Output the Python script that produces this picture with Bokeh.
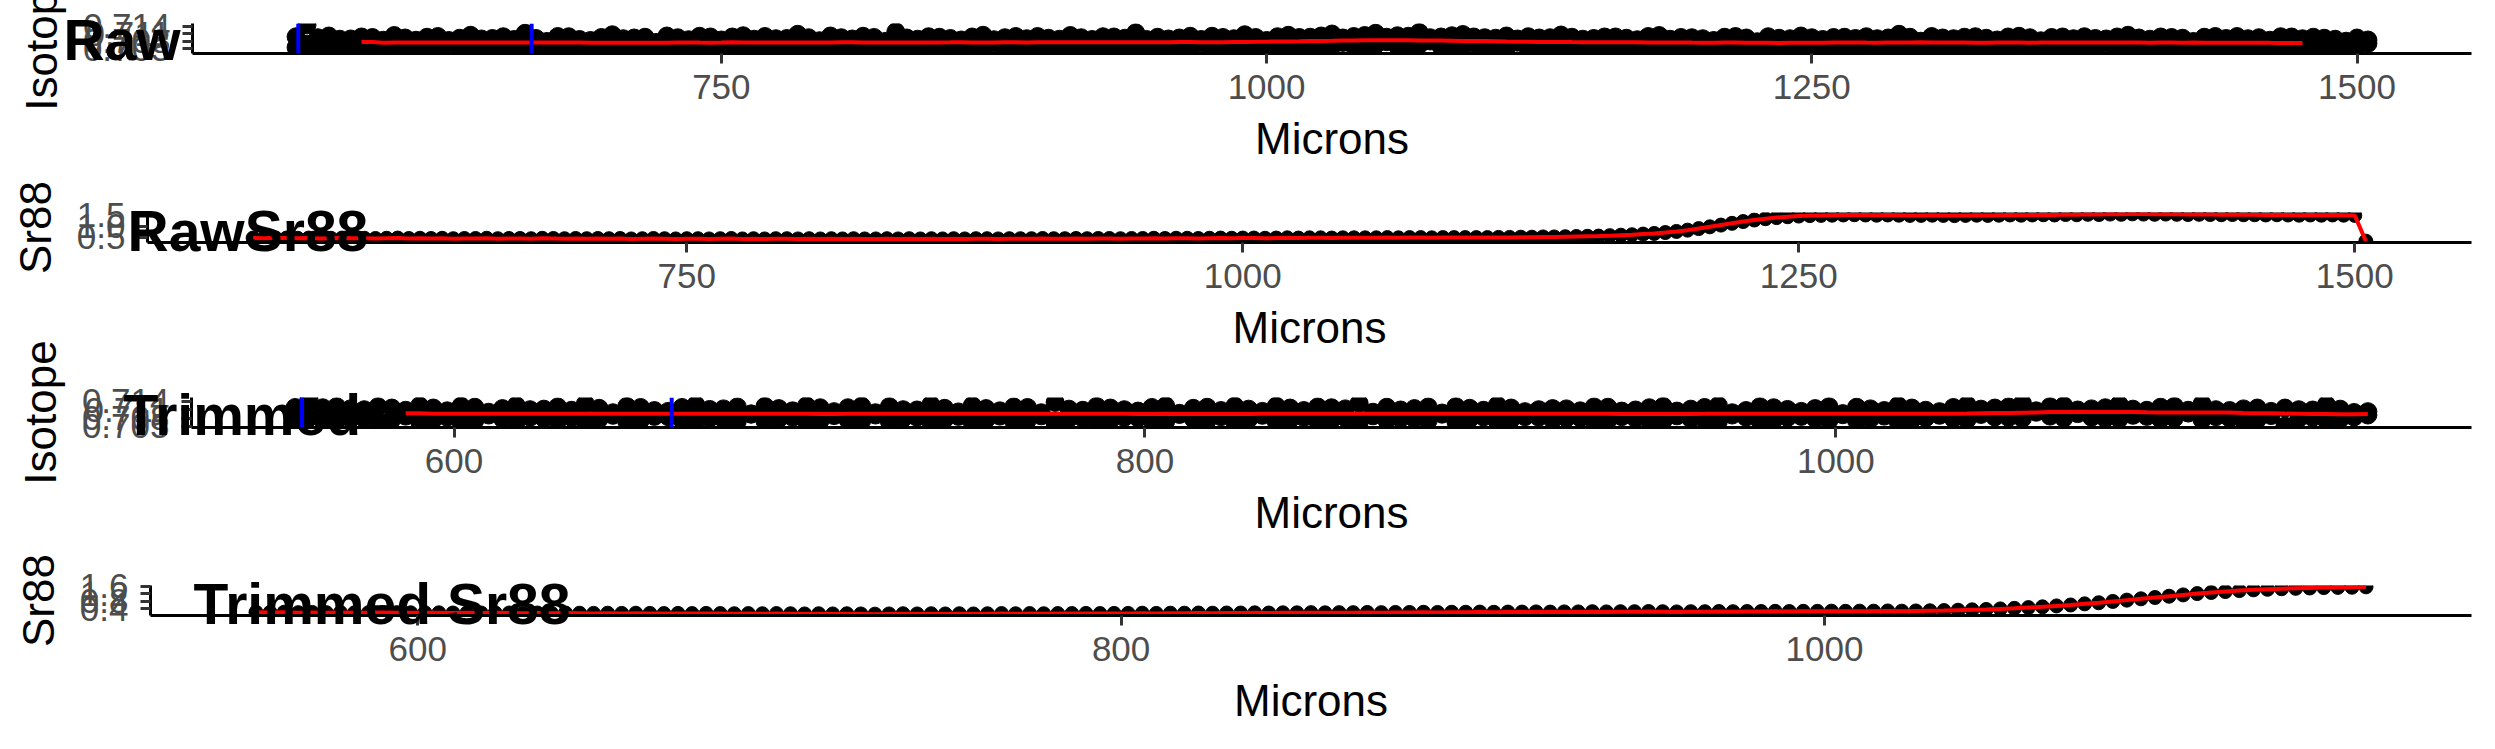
import numpy as np
import pandas as pd
from bokeh.plotting import figure
from bokeh.models import Range1d, FixedTicker, PrintfTickFormatter, Span, Title
from bokeh.embed import file_html
from bokeh.resources import INLINE

# ---------------- data ----------------
x_raw = [555, 560, 565, 570, 575, 580, 585, 590, 595, 600,
         605, 610, 615, 620, 625, 630, 635, 640, 645, 650,
         655, 660, 665, 670, 675, 680, 685, 690, 695, 700,
         705, 710, 715, 720, 725, 730, 735, 740, 745, 750,
         755, 760, 765, 770, 775, 780, 785, 790, 795, 800,
         805, 810, 815, 820, 825, 830, 835, 840, 845, 850,
         855, 860, 865, 870, 875, 880, 885, 890, 895, 900,
         905, 910, 915, 920, 925, 930, 935, 940, 945, 950,
         955, 960, 965, 970, 975, 980, 985, 990, 995, 1000,
         1005, 1010, 1015, 1020, 1025, 1030, 1035, 1040, 1045, 1050,
         1055, 1060, 1065, 1070, 1075, 1080, 1085, 1090, 1095, 1100,
         1105, 1110, 1115, 1120, 1125, 1130, 1135, 1140, 1145, 1150,
         1155, 1160, 1165, 1170, 1175, 1180, 1185, 1190, 1195, 1200,
         1205, 1210, 1215, 1220, 1225, 1230, 1235, 1240, 1245, 1250,
         1255, 1260, 1265, 1270, 1275, 1280, 1285, 1290, 1295, 1300,
         1305, 1310, 1315, 1320, 1325, 1330, 1335, 1340, 1345, 1350,
         1355, 1360, 1365, 1370, 1375, 1380, 1385, 1390, 1395, 1400,
         1405, 1410, 1415, 1420, 1425, 1430, 1435, 1440, 1445, 1450,
         1455, 1460, 1465, 1470, 1475, 1480, 1485, 1490, 1495, 1500,
         1505]

# two isotope readings per position (the cloud in the reference is dense)
iso_raw_a = [0.7098, 0.7146, 0.7052, 0.7101, 0.7061, 0.7089, 0.7048, 0.7095, 0.7067, 0.7103,
             0.7055, 0.7084, 0.7046, 0.7099, 0.7072, 0.7058, 0.7104, 0.7063, 0.7091, 0.7050,
             0.7087, 0.7112, 0.7057, 0.7079, 0.7047, 0.7098, 0.7066, 0.7083, 0.7052, 0.7106,
             0.7060, 0.7093, 0.7049, 0.7075, 0.7101, 0.7058, 0.7086, 0.7046, 0.7097, 0.7069,
             0.7054, 0.7102, 0.7071, 0.7048, 0.7090, 0.7063, 0.7108, 0.7056, 0.7082, 0.7045,
             0.7094, 0.7067, 0.7100, 0.7053, 0.7079, 0.7118, 0.7059, 0.7088, 0.7047, 0.7096,
             0.7062, 0.7085, 0.7050, 0.7104, 0.7073, 0.7057, 0.7099, 0.7065, 0.7046, 0.7092,
             0.7070, 0.7103, 0.7055, 0.7087, 0.7049, 0.7097, 0.7061, 0.7114, 0.7068, 0.7052,
             0.7089, 0.7058, 0.7100, 0.7074, 0.7047, 0.7095, 0.7064, 0.7106, 0.7056, 0.7083,
             0.7063, 0.7104, 0.7070, 0.7096, 0.7058, 0.7109, 0.7075, 0.7099, 0.7061, 0.7112,
             0.7078, 0.7102, 0.7064, 0.7115, 0.7081, 0.7097, 0.7060, 0.7107, 0.7072, 0.7094,
             0.7059, 0.7101, 0.7076, 0.7050, 0.7093, 0.7067, 0.7105, 0.7054, 0.7088, 0.7070,
             0.7048, 0.7097, 0.7063, 0.7086, 0.7052, 0.7103, 0.7071, 0.7057, 0.7094, 0.7066,
             0.7083, 0.7049, 0.7099, 0.7060, 0.7078, 0.7046, 0.7092, 0.7068, 0.7101, 0.7055,
             0.7087, 0.7051, 0.7096, 0.7069, 0.7045, 0.7090, 0.7062, 0.7108, 0.7057, 0.7080,
             0.7048, 0.7093, 0.7071, 0.7053, 0.7098, 0.7064, 0.7085, 0.7047, 0.7100, 0.7059,
             0.7082, 0.7054, 0.7097, 0.7066, 0.7046, 0.7091, 0.7073, 0.7050, 0.7104, 0.7061,
             0.7088, 0.7049, 0.7095, 0.7063, 0.7079, 0.7052, 0.7099, 0.7067, 0.7045, 0.7090,
             0.7058, 0.7084, 0.7047, 0.7097, 0.7065, 0.7053, 0.7092, 0.7036, 0.7080, 0.7062,
             0.7071]

iso_raw_b = [0.7055, 0.7068, 0.7094, 0.7050, 0.7088, 0.7058, 0.7097, 0.7053, 0.7084, 0.7049,
             0.7093, 0.7061, 0.7096, 0.7054, 0.7083, 0.7092, 0.7051, 0.7089, 0.7056, 0.7098,
             0.7059, 0.7048, 0.7091, 0.7062, 0.7099, 0.7053, 0.7087, 0.7060, 0.7095, 0.7051,
             0.7090, 0.7054, 0.7096, 0.7064, 0.7050, 0.7094, 0.7057, 0.7100, 0.7052, 0.7085,
             0.7097, 0.7050, 0.7088, 0.7099, 0.7055, 0.7091, 0.7049, 0.7094, 0.7058, 0.7101,
             0.7053, 0.7089, 0.7051, 0.7095, 0.7062, 0.7056, 0.7093, 0.7058, 0.7098, 0.7052,
             0.7091, 0.7057, 0.7097, 0.7049, 0.7086, 0.7094, 0.7053, 0.7090, 0.7099, 0.7055,
             0.7088, 0.7051, 0.7094, 0.7060, 0.7098, 0.7054, 0.7092, 0.7057, 0.7087, 0.7096,
             0.7056, 0.7093, 0.7052, 0.7087, 0.7100, 0.7055, 0.7090, 0.7050, 0.7095, 0.7061,
             0.7098, 0.7057, 0.7095, 0.7063, 0.7101, 0.7060, 0.7093, 0.7062, 0.7103, 0.7065,
             0.7096, 0.7061, 0.7100, 0.7066, 0.7094, 0.7059, 0.7102, 0.7063, 0.7097, 0.7058,
             0.7092, 0.7055, 0.7089, 0.7098, 0.7058, 0.7094, 0.7052, 0.7096, 0.7057, 0.7091,
             0.7097, 0.7054, 0.7092, 0.7058, 0.7099, 0.7051, 0.7088, 0.7095, 0.7053, 0.7090,
             0.7056, 0.7096, 0.7050, 0.7093, 0.7059, 0.7098, 0.7054, 0.7090, 0.7049, 0.7094,
             0.7055, 0.7095, 0.7053, 0.7091, 0.7098, 0.7056, 0.7093, 0.7050, 0.7096, 0.7058,
             0.7099, 0.7052, 0.7090, 0.7096, 0.7054, 0.7092, 0.7057, 0.7097, 0.7051, 0.7094,
             0.7057, 0.7095, 0.7052, 0.7090, 0.7098, 0.7055, 0.7089, 0.7097, 0.7050, 0.7093,
             0.7054, 0.7097, 0.7051, 0.7092, 0.7058, 0.7096, 0.7053, 0.7091, 0.7099, 0.7056,
             0.7094, 0.7056, 0.7098, 0.7051, 0.7090, 0.7096, 0.7055, 0.7088, 0.7057, 0.7093,
             0.7085]

sr88_raw = [0.47, 0.46, 0.48, 0.47, 0.46, 0.47, 0.45, 0.46, 0.47, 0.46,
            0.46, 0.45, 0.46, 0.47, 0.45, 0.46, 0.45, 0.46, 0.44, 0.45,
            0.45, 0.46, 0.44, 0.45, 0.45, 0.44, 0.46, 0.45, 0.44, 0.45,
            0.44, 0.45, 0.44, 0.45, 0.43, 0.44, 0.45, 0.44, 0.43, 0.44,
            0.44, 0.43, 0.44, 0.45, 0.43, 0.44, 0.43, 0.44, 0.44, 0.43,
            0.44, 0.43, 0.44, 0.43, 0.44, 0.43, 0.43, 0.44, 0.43, 0.44,
            0.43, 0.44, 0.43, 0.44, 0.43, 0.44, 0.44, 0.43, 0.44, 0.44,
            0.44, 0.45, 0.44, 0.44, 0.45, 0.44, 0.45, 0.45, 0.44, 0.45,
            0.45, 0.46, 0.45, 0.46, 0.46, 0.45, 0.46, 0.47, 0.46, 0.47,
            0.47, 0.46, 0.47, 0.48, 0.47, 0.48, 0.48, 0.47, 0.48, 0.48,
            0.48, 0.48, 0.49, 0.48, 0.49, 0.49, 0.48, 0.49, 0.49, 0.49,
            0.49, 0.49, 0.50, 0.50, 0.51, 0.51, 0.52, 0.52, 0.53, 0.54,
            0.55, 0.56, 0.58, 0.60, 0.62, 0.65, 0.68, 0.72, 0.77, 0.83,
            0.90, 0.98, 1.06, 1.14, 1.22, 1.29, 1.35, 1.40, 1.44, 1.47,
            1.49, 1.50, 1.51, 1.52, 1.53, 1.52, 1.51, 1.52, 1.51, 1.50,
            1.50, 1.51, 1.50, 1.49, 1.50, 1.51, 1.50, 1.51, 1.52, 1.51,
            1.52, 1.53, 1.52, 1.54, 1.53, 1.55, 1.54, 1.56, 1.55, 1.57,
            1.56, 1.55, 1.56, 1.55, 1.54, 1.55, 1.54, 1.53, 1.54, 1.53,
            1.53, 1.52, 1.53, 1.52, 1.51, 1.52, 1.51, 1.52, 1.51, 1.50,
            0.33]

x_trim = [554, 558, 562, 566, 570, 574, 578, 582, 586, 590,
          594, 598, 602, 606, 610, 614, 618, 622, 626, 630,
          634, 638, 642, 646, 650, 654, 658, 662, 666, 670,
          674, 678, 682, 686, 690, 694, 698, 702, 706, 710,
          714, 718, 722, 726, 730, 734, 738, 742, 746, 750,
          754, 758, 762, 766, 770, 774, 778, 782, 786, 790,
          794, 798, 802, 806, 810, 814, 818, 822, 826, 830,
          834, 838, 842, 846, 850, 854, 858, 862, 866, 870,
          874, 878, 882, 886, 890, 894, 898, 902, 906, 910,
          914, 918, 922, 926, 930, 934, 938, 942, 946, 950,
          954, 958, 962, 966, 970, 974, 978, 982, 986, 990,
          994, 998, 1002, 1006, 1010, 1014, 1018, 1022, 1026, 1030,
          1034, 1038, 1042, 1046, 1050, 1054, 1058, 1062, 1066, 1070,
          1074, 1078, 1082, 1086, 1090, 1094, 1098, 1102, 1106, 1110,
          1114, 1118, 1122, 1126, 1130, 1134, 1138, 1142, 1146, 1150,
          1154]

iso_trim_a = [0.7118, 0.7149, 0.7072, 0.7121, 0.7080, 0.7110, 0.7069, 0.7116, 0.7087, 0.7124,
              0.7075, 0.7106, 0.7066, 0.7119, 0.7091, 0.7078, 0.7125, 0.7083, 0.7112, 0.7070,
              0.7108, 0.7131, 0.7077, 0.7099, 0.7068, 0.7118, 0.7086, 0.7104, 0.7073, 0.7127,
              0.7080, 0.7113, 0.7069, 0.7095, 0.7122, 0.7078, 0.7106, 0.7066, 0.7117, 0.7089,
              0.7074, 0.7123, 0.7091, 0.7068, 0.7110, 0.7083, 0.7128, 0.7076, 0.7102, 0.7065,
              0.7114, 0.7087, 0.7120, 0.7073, 0.7099, 0.7136, 0.7079, 0.7108, 0.7067, 0.7116,
              0.7082, 0.7105, 0.7070, 0.7124, 0.7093, 0.7077, 0.7119, 0.7085, 0.7066, 0.7112,
              0.7090, 0.7123, 0.7075, 0.7107, 0.7069, 0.7117, 0.7081, 0.7133, 0.7088, 0.7072,
              0.7109, 0.7078, 0.7120, 0.7094, 0.7067, 0.7115, 0.7084, 0.7126, 0.7076, 0.7103,
              0.7083, 0.7114, 0.7080, 0.7106, 0.7068, 0.7119, 0.7085, 0.7109, 0.7071, 0.7122,
              0.7088, 0.7112, 0.7074, 0.7125, 0.7091, 0.7107, 0.7070, 0.7117, 0.7082, 0.7104,
              0.7079, 0.7121, 0.7096, 0.7070, 0.7113, 0.7087, 0.7125, 0.7074, 0.7108, 0.7090,
              0.7078, 0.7127, 0.7093, 0.7116, 0.7082, 0.7133, 0.7101, 0.7087, 0.7124, 0.7096,
              0.7113, 0.7079, 0.7129, 0.7090, 0.7108, 0.7076, 0.7122, 0.7098, 0.7131, 0.7085,
              0.7107, 0.7071, 0.7116, 0.7089, 0.7051, 0.7110, 0.7082, 0.7128, 0.7077, 0.7100,
              0.7091]

iso_trim_b = [0.7074, 0.7081, 0.7117, 0.7070, 0.7113, 0.7078, 0.7121, 0.7075, 0.7108, 0.7068,
              0.7116, 0.7083, 0.7123, 0.7071, 0.7101, 0.7114, 0.7066, 0.7110, 0.7079, 0.7120,
              0.7082, 0.7064, 0.7115, 0.7090, 0.7122, 0.7073, 0.7107, 0.7085, 0.7118, 0.7067,
              0.7111, 0.7076, 0.7120, 0.7094, 0.7069, 0.7114, 0.7083, 0.7124, 0.7072, 0.7103,
              0.7117, 0.7070, 0.7099, 0.7121, 0.7079, 0.7109, 0.7066, 0.7115, 0.7086, 0.7125,
              0.7075, 0.7106, 0.7069, 0.7118, 0.7088, 0.7062, 0.7112, 0.7080, 0.7122, 0.7073,
              0.7110, 0.7081, 0.7118, 0.7068, 0.7097, 0.7115, 0.7071, 0.7107, 0.7123, 0.7076,
              0.7104, 0.7067, 0.7116, 0.7082, 0.7120, 0.7074, 0.7113, 0.7063, 0.7101, 0.7119,
              0.7079, 0.7114, 0.7072, 0.7098, 0.7121, 0.7077, 0.7108, 0.7068, 0.7116, 0.7085,
              0.7110, 0.7074, 0.7113, 0.7081, 0.7120, 0.7072, 0.7105, 0.7079, 0.7117, 0.7070,
              0.7105, 0.7078, 0.7118, 0.7069, 0.7099, 0.7083, 0.7121, 0.7073, 0.7111, 0.7086,
              0.7114, 0.7072, 0.7092, 0.7119, 0.7078, 0.7107, 0.7068, 0.7116, 0.7081, 0.7103,
              0.7118, 0.7075, 0.7112, 0.7084, 0.7120, 0.7079, 0.7106, 0.7121, 0.7080, 0.7109,
              0.7083, 0.7117, 0.7077, 0.7112, 0.7086, 0.7119, 0.7080, 0.7108, 0.7074, 0.7110,
              0.7080, 0.7113, 0.7075, 0.7104, 0.7116, 0.7079, 0.7109, 0.7072, 0.7112, 0.7084,
              0.7103]

sr88_trim = [0.22, 0.21, 0.22, 0.20, 0.21, 0.20, 0.21, 0.19, 0.20, 0.21,
             0.20, 0.19, 0.20, 0.19, 0.18, 0.19, 0.18, 0.19, 0.18, 0.17,
             0.18, 0.17, 0.18, 0.17, 0.16, 0.17, 0.16, 0.17, 0.16, 0.15,
             0.16, 0.15, 0.16, 0.15, 0.14, 0.15, 0.14, 0.15, 0.14, 0.13,
             0.14, 0.13, 0.14, 0.13, 0.12, 0.13, 0.14, 0.13, 0.14, 0.13,
             0.14, 0.13, 0.14, 0.15, 0.14, 0.15, 0.14, 0.15, 0.15, 0.16,
             0.15, 0.16, 0.16, 0.17, 0.16, 0.17, 0.17, 0.18, 0.17, 0.18,
             0.18, 0.19, 0.18, 0.19, 0.19, 0.20, 0.19, 0.20, 0.20, 0.21,
             0.20, 0.21, 0.21, 0.22, 0.21, 0.22, 0.22, 0.23, 0.22, 0.23,
             0.23, 0.24, 0.23, 0.24, 0.24, 0.25, 0.24, 0.25, 0.25, 0.26,
             0.25, 0.24, 0.25, 0.25, 0.26, 0.25, 0.26, 0.26, 0.27, 0.26,
             0.27, 0.27, 0.28, 0.27, 0.28, 0.28, 0.29, 0.28, 0.29, 0.30,
             0.31, 0.33, 0.35, 0.37, 0.40, 0.43, 0.47, 0.51, 0.56, 0.61,
             0.67, 0.73, 0.80, 0.87, 0.94, 1.01, 1.08, 1.15, 1.22, 1.28,
             1.33, 1.38, 1.42, 1.45, 1.48, 1.50, 1.52, 1.54, 1.55, 1.56,
             1.58]

window_lines = [556, 663]          # blue vertical markers (Microns)
raw_xticks = [750, 1000, 1250, 1500]
trim_xticks = [600, 800, 1000]
iso_yticks = [0.705, 0.708, 0.711, 0.714]
sr_raw_yticks = [0.5, 1.0, 1.5]
sr_trim_yticks = [0.4, 0.8, 1.2, 1.6]

# smoothed isotope lines (moving averages of the readings)
iso_raw_mean = (pd.Series(iso_raw_a) + pd.Series(iso_raw_b)) / 2
iso_trim_mean = (pd.Series(iso_trim_a) + pd.Series(iso_trim_b)) / 2
iso_raw_smooth = iso_raw_mean.rolling(13, center=True).mean().to_numpy()
iso_trim_smooth = iso_trim_mean.rolling(9).mean().to_numpy()

FONT = "Liberation Sans"
W, FRAME_H, FRAME_RIGHT = 2495, 30, 2471
EXTRA = 40   # extra transparent canvas above panels 2-4 (overlaps the panel above)


def panel(x, ys, red, xticks, yticks, yfmt, title, ylabel, frame_left, top,
          height, t_offset, t_standoff, vlines, psize, extra):
    xlo, xhi = min(x), max(x)
    ylo = min(min(y) for y in ys)
    yhi = max(max(y) for y in ys)
    xp, yp = 0.05 * (xhi - xlo), 0.05 * (yhi - ylo)
    kw = {}
    if extra:
        kw["styles"] = {"margin-top": f"-{extra}px"}
    p = figure(width=W, height=height + extra, output_backend="svg",
               toolbar_location=None, title=None,
               x_range=Range1d(xlo - xp, xhi + xp),
               y_range=Range1d(ylo - yp, yhi + yp),
               min_border_left=frame_left, min_border_right=W - FRAME_RIGHT,
               min_border_top=top + extra,
               min_border_bottom=height - top - FRAME_H,
               background_fill_color="white", border_fill_color=None, **kw)
    p.outline_line_color = None
    p.xgrid.visible = False
    p.ygrid.visible = False

    for y in ys:
        p.scatter(x, y, size=psize, color="black")
    p.line(x, red, color="red", line_width=4)
    for v in vlines:
        p.add_layout(Span(location=v, dimension="height", line_color="blue",
                          line_width=4))

    for ax in (p.xaxis[0], p.yaxis[0]):
        ax.axis_line_color = "black"
        ax.axis_line_width = 3
        ax.major_tick_line_color = "#333333"
        ax.major_tick_line_width = 3
        ax.major_tick_out = 10
        ax.major_tick_in = 0
        ax.minor_tick_line_color = None
        ax.major_label_text_font = FONT
        ax.major_label_text_font_size = "35px"
        ax.major_label_text_color = "#4D4D4D"
        ax.axis_label_text_font = FONT
        ax.axis_label_text_font_size = "44px"
        ax.axis_label_text_font_style = "normal"
        ax.axis_label_text_color = "black"

    p.xaxis.ticker = FixedTicker(ticks=xticks)
    p.xaxis.axis_label = "Microns"
    p.xaxis.major_label_standoff = 11
    p.xaxis.axis_label_standoff = 12

    p.yaxis.ticker = FixedTicker(ticks=yticks)
    p.yaxis.formatter = PrintfTickFormatter(format=yfmt)
    p.yaxis.axis_label = ylabel
    p.yaxis.major_label_standoff = 12
    p.yaxis.axis_label_standoff = 14

    # panel tag: a title pushed down (negative standoff) over the plot frame
    p.add_layout(Title(text=title, align="left", vertical_align="bottom",
                       offset=t_offset, standoff=t_standoff,
                       text_font=FONT, text_font_size="57px",
                       text_font_style="bold", text_color="black"), "above")
    return p


p1 = panel(x_raw, [iso_raw_a, iso_raw_b], iso_raw_smooth, raw_xticks,
           iso_yticks, "%.3f", "Raw", "Isotope", 192, 23, 187, -129, -97,
           window_lines, 18, 0)
p2 = panel(x_raw, [sr88_raw], sr88_raw, raw_xticks, sr_raw_yticks, "%.1f",
           "RawSr88", "Sr88", 147, 25, 187, -20, -100, [], 14, EXTRA)
p3 = panel(x_trim, [iso_trim_a, iso_trim_b], iso_trim_smooth, trim_xticks,
           iso_yticks, "%.3f", "Trimmed", "Isotope", 191, 23, 187, -68, -98,
           window_lines, 18, EXTRA)
p4 = panel(x_trim, [sr88_trim], sr88_trim, trim_xticks, sr_trim_yticks, "%.1f",
           "Trimmed Sr88", "Sr88", 150, 24, 188, 43, -100, [], 14, EXTRA)

# each panel is its own root so that Bokeh does not align the plot frames
open("out.html", "w").write(file_html([p1, p2, p3, p4], INLINE))
